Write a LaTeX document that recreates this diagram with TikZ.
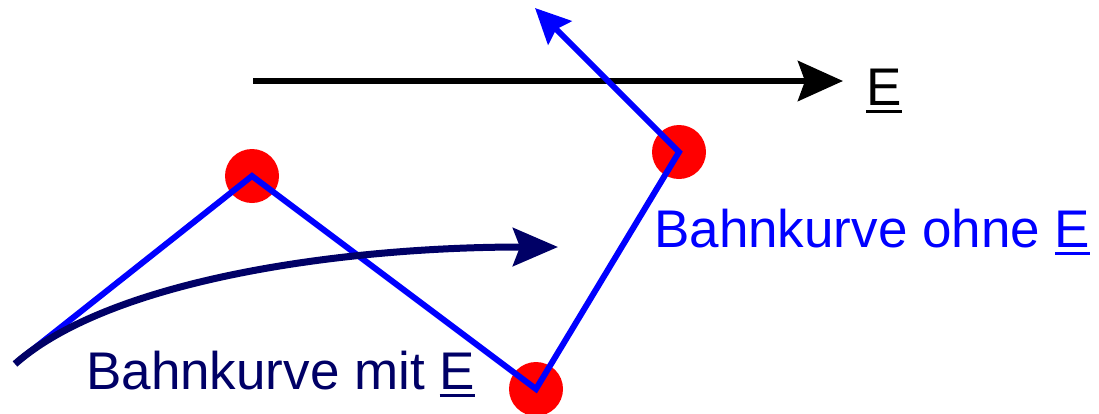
\documentclass[tikz,border=0pt]{standalone}
\usepackage{fontspec}
\setmainfont{Liberation Sans}
\usetikzlibrary{arrows.meta}
\definecolor{navy}{RGB}{0,0,102}
\newcommand{\myul}[1]{{\setbox0\hbox{#1}\rlap{\rule[-8pt]{\wd0}{3pt}}\box0}}
\tikzset{
  dot/.style={circle, fill=red, draw=none, minimum size=54pt, inner sep=0pt},
  bluepath/.style={draw=blue, line width=6pt, line join=miter},
  navypath/.style={draw=navy, line width=7pt},
  fieldline/.style={draw=black, line width=6pt},
  lbl/.style={inner sep=0pt, anchor=base west, font=\fontsize{53}{60}\selectfont}
}
\begin{document}
\begin{tikzpicture}[x=1pt,y=-1pt]
\useasboundingbox (0,0) rectangle (1099,413);
% field arrow
\coordinate (es) at (253,81);
\coordinate (ee) at (843,81);
\draw[fieldline, -{Stealth[length=45pt,width=40pt,inset=7pt]}] (es) -- (ee);
\node[lbl, text=black] (elbl) at (866,105) {\myul{E}};
% collision points
\node[dot] (p1) at (252,176) {};
\node[dot] (p2) at (536,389) {};
\node[dot] (p3) at (679,152) {};
% path without field
\coordinate (bs) at (17,362);
\coordinate (bt) at (535,8);
\draw[bluepath, -{Stealth[length=35pt,width=33pt,inset=5pt]}] (bs) -- (p1.center) -- (p2.center) -- (p3.center) -- (bt);
% path with field
\coordinate (ns) at (15,364);
\coordinate (nt) at (558,247);
\draw[navypath, -{Stealth[length=45pt,width=38pt,inset=7pt]}] (ns) .. controls (110,280) and (340,247) .. (nt);
% labels
\node[lbl, text=blue] (ohne) at (654,247) {Bahnkurve ohne \myul{E}};
\node[lbl, text=navy] (mit) at (86,389) {Bahnkurve mit \myul{E}};
\end{tikzpicture}
\end{document}
